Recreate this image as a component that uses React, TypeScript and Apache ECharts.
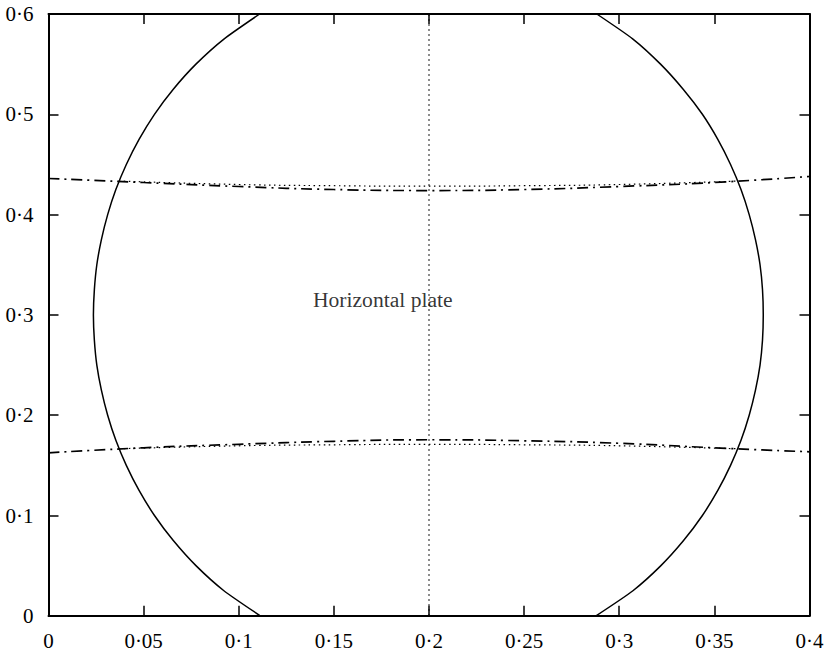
import React, { useEffect, useRef } from "react";
import * as echarts from "echarts";

// Closed contour: left and right arcs, y from top to bottom
const arcY = [0.6, 0.575, 0.55, 0.525, 0.5, 0.475, 0.45, 0.425, 0.4, 0.375, 0.35, 0.325, 0.3,
  0.275, 0.25, 0.225, 0.2, 0.175, 0.15, 0.125, 0.1, 0.075, 0.05, 0.025, 0.0];
const leftArcX = [0.111, 0.0922, 0.0775, 0.0656, 0.0557, 0.0476, 0.0409, 0.0354, 0.0311, 0.0278, 0.0254, 0.0241, 0.0236,
  0.0241, 0.0254, 0.0278, 0.0311, 0.0354, 0.0409, 0.0476, 0.0557, 0.0656, 0.0775, 0.0922, 0.1113];
const rightArcX = [0.2882, 0.3072, 0.3217, 0.3336, 0.3437, 0.3518, 0.3585, 0.364, 0.3683, 0.3716, 0.374, 0.3753, 0.3757,
  0.3753, 0.374, 0.3716, 0.3683, 0.364, 0.3585, 0.3518, 0.3437, 0.3338, 0.3219, 0.3072, 0.2878];

// Dash-dot curves
const dashX = [0, 0.05, 0.1, 0.15, 0.2, 0.25, 0.3, 0.35, 0.4];
const upperDashY = [0.436, 0.432, 0.428, 0.425, 0.424, 0.425, 0.428, 0.432, 0.438];
const lowerDashY = [0.1625, 0.1675, 0.171, 0.174, 0.1755, 0.1745, 0.172, 0.1675, 0.1635];

// Dotted curves (inside contour)
const dotX = [0.037, 0.1, 0.15, 0.2, 0.25, 0.3, 0.363];
const upperDotY = [0.4335, 0.43, 0.4288, 0.4283, 0.4288, 0.43, 0.4335];
const lowerDotY = [0.1665, 0.1695, 0.1705, 0.171, 0.1705, 0.1695, 0.1665];

// Vertical centre line
const centreX = [0.2, 0.2];
const centreY = [0, 0.6];

const annotation = { text: "Horizontal plate", x: 0.139, y: 0.315 };

const zip = (xs: number[], ys: number[]) => xs.map((x, i) => [x, ys[i]]);
const fmt = (v: number) => String(Math.round(v * 1000) / 1000).replace(".", "·");

export default function App() {
  const ref = useRef<HTMLDivElement>(null);
  useEffect(() => {
    if (!ref.current) return;
    const chart = echarts.init(ref.current, null, { renderer: "svg" });
    const font = "Liberation Serif";
    const axisLine = { show: true, onZero: false, lineStyle: { color: "#000", width: 2 } };
    const tick = { show: true, inside: true, length: 10, lineStyle: { color: "#000", width: 1.5 } };
    const label = { color: "#000", fontFamily: font, fontSize: 21 };
    const dotted = { color: "#000", width: 1.2, type: [1.5, 3.5] };
    const dashDot = { color: "#000", width: 1.7, type: [11, 5, 2, 5] };
    chart.setOption({
      animation: false,
      backgroundColor: "#fff",
      grid: { left: 48.5, right: 18.5, top: 14, bottom: 39.2, containLabel: false },
      xAxis: [
        {
          type: "value", min: 0, max: 0.4, interval: 0.05, position: "bottom",
          axisLine, axisTick: tick, splitLine: { show: false },
          axisLabel: { ...label, margin: 15, formatter: fmt },
        },
        {
          type: "value", min: 0, max: 0.4, interval: 0.05, position: "top",
          axisLine, axisTick: tick, splitLine: { show: false }, axisLabel: { show: false },
        },
      ],
      yAxis: [
        {
          type: "value", min: 0, max: 0.6, interval: 0.1, position: "left",
          axisLine, axisTick: tick, splitLine: { show: false },
          axisLabel: { ...label, margin: 15, formatter: fmt },
        },
        {
          type: "value", min: 0, max: 0.6, interval: 0.1, position: "right",
          axisLine, axisTick: tick, splitLine: { show: false }, axisLabel: { show: false },
        },
      ],
      series: [
        {
          type: "line", data: zip(leftArcX, arcY), showSymbol: false, smooth: 0.2,
          lineStyle: { color: "#000", width: 1.5 },
        },
        {
          type: "line", data: zip(rightArcX, arcY), showSymbol: false, smooth: 0.2,
          lineStyle: { color: "#000", width: 1.5 },
        },
        { type: "line", data: zip(dashX, upperDashY), showSymbol: false, smooth: true, lineStyle: dashDot },
        { type: "line", data: zip(dashX, lowerDashY), showSymbol: false, smooth: true, lineStyle: dashDot },
        { type: "line", data: zip(dotX, upperDotY), showSymbol: false, smooth: true, lineStyle: dotted },
        { type: "line", data: zip(dotX, lowerDotY), showSymbol: false, smooth: true, lineStyle: dotted },
        { type: "line", data: zip(centreX, centreY), showSymbol: false, lineStyle: dotted },
        {
          type: "scatter", data: [[annotation.x, annotation.y]], symbolSize: 0,
          label: {
            show: true, position: "right", distance: 0, formatter: annotation.text,
            color: "#000", fontFamily: font, fontSize: 21.6,
          },
        },
      ],
    });
    return () => chart.dispose();
  }, []);
  return (
    <div
      ref={ref}
      style={{ position: "fixed", left: 0, top: 0, width: 828, height: 655, background: "#fff" }}
    />
  );
}
